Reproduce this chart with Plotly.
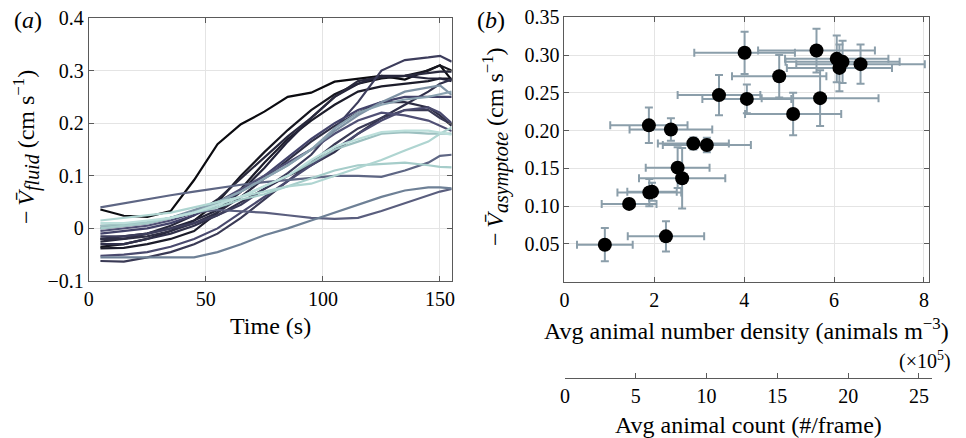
import plotly.graph_objects as go

W, H = 966, 438
FONT = "Liberation Serif"

# ---------------- Panel (a) data ----------------
time_s = [5, 15, 25, 35, 45, 55, 65, 75, 85, 95, 105, 115, 125, 135, 145, 150, 155]

v_A   = [0.036, 0.024, 0.022, 0.033, 0.092, 0.160, 0.198, 0.222, 0.250, 0.258, 0.279, 0.285, 0.290, 0.283, 0.300, 0.310, 0.282]
v_B1  = [-0.035, -0.030, -0.020, -0.005, 0.015, 0.050, 0.100, 0.145, 0.187, 0.225, 0.255, 0.275, 0.285, 0.290, 0.300, 0.310, 0.300]
v_B2  = [-0.020, -0.015, -0.010, 0.000, 0.015, 0.035, 0.070, 0.115, 0.165, 0.210, 0.250, 0.275, 0.290, 0.290, 0.285, 0.285, 0.280]
v_B3  = [-0.015, -0.015, -0.010, 0.000, 0.010, 0.025, 0.045, 0.075, 0.105, 0.140, 0.190, 0.240, 0.300, 0.320, 0.325, 0.328, 0.317]
v_B4  = [-0.030, -0.030, -0.020, -0.010, 0.005, 0.025, 0.050, 0.075, 0.100, 0.120, 0.145, 0.180, 0.210, 0.235, 0.260, 0.275, 0.283]
v_B5  = [-0.020, -0.020, -0.015, -0.005, 0.010, 0.030, 0.060, 0.095, 0.130, 0.165, 0.195, 0.220, 0.240, 0.240, 0.230, 0.215, 0.195]
v_B6  = [-0.010, -0.005, 0.000, 0.010, 0.025, 0.045, 0.070, 0.100, 0.135, 0.170, 0.200, 0.225, 0.240, 0.250, 0.250, 0.250, 0.250]
v_B7  = [-0.005, 0.000, 0.005, 0.015, 0.030, 0.050, 0.075, 0.100, 0.125, 0.150, 0.180, 0.205, 0.220, 0.215, 0.205, 0.195, 0.185]
v_B8  = [-0.025, -0.020, -0.010, 0.005, 0.025, 0.055, 0.095, 0.135, 0.175, 0.210, 0.250, 0.280, 0.288, 0.290, 0.295, 0.298, 0.298]
v_B9  = [-0.062, -0.063, -0.055, -0.045, -0.030, -0.010, 0.020, 0.055, 0.090, 0.125, 0.160, 0.190, 0.210, 0.225, 0.225, 0.210, 0.198]
v_B10 = [-0.052, -0.050, -0.045, -0.035, -0.020, 0.000, 0.030, 0.060, 0.090, 0.120, 0.150, 0.180, 0.205, 0.225, 0.230, 0.220, 0.200]
v_B11 = [-0.038, -0.037, -0.030, -0.020, -0.005, 0.030, 0.075, 0.125, 0.170, 0.205, 0.235, 0.260, 0.270, 0.275, 0.280, 0.285, 0.285]
v_D1  = [0.040, 0.048, 0.056, 0.063, 0.070, 0.077, 0.083, 0.088, 0.092, 0.097, 0.100, 0.100, 0.098, 0.110, 0.125, 0.138, 0.140]
v_G1  = [-0.055, -0.055, -0.056, -0.056, -0.055, -0.045, -0.030, -0.013, 0.000, 0.015, 0.030, 0.045, 0.060, 0.072, 0.078, 0.078, 0.076]
v_G3  = [0.000, 0.005, 0.010, 0.020, 0.030, 0.035, 0.033, 0.030, 0.025, 0.020, 0.018, 0.020, 0.033, 0.048, 0.062, 0.070, 0.075]
v_L4  = [0.005, 0.005, 0.010, 0.020, 0.035, 0.050, 0.070, 0.095, 0.120, 0.150, 0.185, 0.215, 0.240, 0.260, 0.268, 0.272, 0.254]
v_L5  = [0.000, 0.005, 0.010, 0.020, 0.030, 0.050, 0.070, 0.095, 0.120, 0.150, 0.190, 0.220, 0.235, 0.245, 0.250, 0.255, 0.260]
v_L6  = [0.005, 0.008, 0.012, 0.020, 0.030, 0.045, 0.060, 0.080, 0.100, 0.125, 0.150, 0.165, 0.180, 0.183, 0.180, 0.180, 0.180]
v_L3  = [0.000, 0.005, 0.010, 0.020, 0.030, 0.040, 0.055, 0.065, 0.080, 0.095, 0.110, 0.120, 0.123, 0.125, 0.120, 0.117, 0.116]
v_L2  = [0.015, 0.020, 0.025, 0.030, 0.040, 0.050, 0.060, 0.070, 0.080, 0.085, 0.100, 0.115, 0.130, 0.148, 0.165, 0.180, 0.192]
v_L1  = [0.010, 0.010, 0.015, 0.020, 0.030, 0.045, 0.060, 0.080, 0.100, 0.130, 0.155, 0.170, 0.183, 0.186, 0.186, 0.182, 0.178]

series_a = [
    (v_A, "#0b0b10"), (v_B11, "#1c1c2a"), (v_B1, "#16161f"), (v_B2, "#24243a"),
    (v_B8, "#29293d"), (v_B4, "#30304a"), (v_B5, "#2e2e45"), (v_B9, "#3a3a55"),
    (v_B3, "#3d3d5c"), (v_B6, "#43436a"), (v_B10, "#4a4a6e"), (v_B7, "#505075"),
    (v_D1, "#5e6684"), (v_G3, "#5a5e7e"), (v_G1, "#6e8096"), (v_L4, "#7e92a4"),
    (v_L5, "#8ba3b1"), (v_L6, "#9cc0c0"), (v_L3, "#a6cdca"), (v_L2, "#afd5d1"),
    (v_L1, "#bcdfdb"),
]

# ---------------- Panel (b) data ----------------
density = [0.90, 1.44, 1.89, 1.95, 1.88, 2.37, 2.26, 2.52, 2.62, 2.87, 3.17,
           3.44, 4.01, 4.06, 4.78, 5.09, 5.61, 5.69, 6.06, 6.12, 6.19, 6.59]
v_asym = [0.049, 0.103, 0.118, 0.119, 0.207, 0.2015, 0.060, 0.151, 0.137, 0.183, 0.181,
          0.247, 0.303, 0.242, 0.272, 0.222, 0.306, 0.243, 0.295, 0.283, 0.291, 0.288]
density_err = [0.62, 0.61, 0.71, 0.55, 0.86, 0.92, 0.85, 0.71, 0.96, 0.79, 0.98,
               0.92, 1.12, 0.99, 1.05, 1.07, 1.30, 1.30, 1.15, 1.17, 1.27, 1.43]
v_asym_err = [0.022, 0.006, 0.018, 0.012, 0.0235, 0.015, 0.020, 0.027, 0.040, 0.008, 0.0097,
              0.0265, 0.028, 0.019, 0.028, 0.028, 0.029, 0.037, 0.031, 0.031, 0.028, 0.026]

a_xticks = [0, 50, 100, 150]
a_yticks = [-0.1, 0, 0.1, 0.2, 0.3, 0.4]
a_yticktext = ["\u22120.1", "0", "0.1", "0.2", "0.3", "0.4"]
b_xticks = [0, 2, 4, 6, 8]
b_yticks = [0.05, 0.10, 0.15, 0.20, 0.25, 0.30, 0.35]
count_ticks = [0, 5, 10, 15, 20, 25]

fig = go.Figure()

for vals, col in series_a:
    fig.add_trace(go.Scatter(x=time_s, y=vals, mode="lines",
                             line=dict(color=col, width=2.2),
                             xaxis="x", yaxis="y", showlegend=False, hoverinfo="skip"))

fig.add_trace(go.Scatter(
    x=density, y=v_asym, mode="markers",
    marker=dict(color="black", size=14),
    error_x=dict(type="data", array=density_err, color="#8b9eaa", thickness=2, width=4),
    error_y=dict(type="data", array=v_asym_err, color="#8b9eaa", thickness=2, width=4),
    xaxis="x2", yaxis="y2", showlegend=False))

# dummy trace for the secondary count axis
fig.add_trace(go.Scatter(x=[None], y=[None], mode="markers", xaxis="x3", yaxis="y3",
                         showlegend=False, hoverinfo="skip"))

axis_common = dict(showline=True, linecolor="#5a5a5a", linewidth=1, mirror="ticks",
                   ticks="inside", ticklen=5, tickcolor="#5a5a5a", automargin=False,
                   ticklabeloverflow="allow",
                   showgrid=True, gridcolor="#e4e4e4", gridwidth=1, zeroline=False,
                   tickfont=dict(family=FONT, size=20, color="black"))

def px(x):
    return x / W

def py(y):
    return 1 - y / H

fig.update_layout(
    template="none",
    width=W, height=H,
    margin=dict(l=0, r=0, t=0, b=0, autoexpand=False),
    paper_bgcolor="white", plot_bgcolor="white",
    font=dict(family=FONT, color="black"),
    xaxis=dict(domain=[px(88.7), px(451.7)], range=[0, 155], anchor="y",
               tickvals=a_xticks, **axis_common),
    yaxis=dict(domain=[py(281), py(18)], range=[-0.1, 0.4], anchor="x",
               tickvals=a_yticks, ticktext=a_yticktext, **axis_common),
    xaxis2=dict(domain=[px(564.4), px(929.3)], range=[0, 8.12], anchor="y2",
                tickvals=b_xticks, **axis_common),
    yaxis2=dict(domain=[py(281.7), py(17.3)], range=[0, 0.35], anchor="x2",
                tickvals=b_yticks, tickformat=".2f", **axis_common),
    xaxis3=dict(domain=[px(565), px(931.7)], range=[0, 25.9], anchor="y3",
                tickvals=count_ticks, showline=True, linecolor="#5a5a5a", linewidth=1,
                ticks="inside", ticklen=5, tickcolor="#5a5a5a", showgrid=False, zeroline=False,
                automargin=False, ticklabeloverflow="allow",
                tickfont=dict(family=FONT, size=20, color="black")),
    yaxis3=dict(domain=[py(377.7), py(376)], range=[0, 1], anchor="x3", visible=False),
)

def ann(text, x, y, size=24, angle=0):
    fig.add_annotation(text=text, x=px(x), y=py(y), xref="paper", yref="paper",
                       showarrow=False, xanchor="center", yanchor="middle",
                       textangle=angle, font=dict(family=FONT, size=size, color="black"))

SUB = "<sub><span style='font-size:20px'><i>{}</i></span></sub>"
ann("(<i>a</i>)", 28, 20)
ann("(<i>b</i>)", 491, 20)
ann("\u2212\u2009<i>V\u0304</i>" + SUB.format("fluid") + " (cm s<sup>\u22121</sup>)", 26, 147, size=24, angle=-90)
ann("\u2212\u2009<i>V\u0304</i>" + SUB.format("asymptote") + " (cm s<sup>\u22121</sup>)", 495, 147, size=24, angle=-90)
ann("Time (s)", 270, 326)
ann("Avg animal number density (animals m<sup>\u22123</sup>)", 746.5, 329)
ann("(\u00d710<sup>5</sup>)", 924.5, 360, size=20)
ann("Avg animal count (#/frame)", 748, 425)

fig.write_html("out.html", config={"displayModeBar": False},
               post_script="document.body.style.margin='0px';")
